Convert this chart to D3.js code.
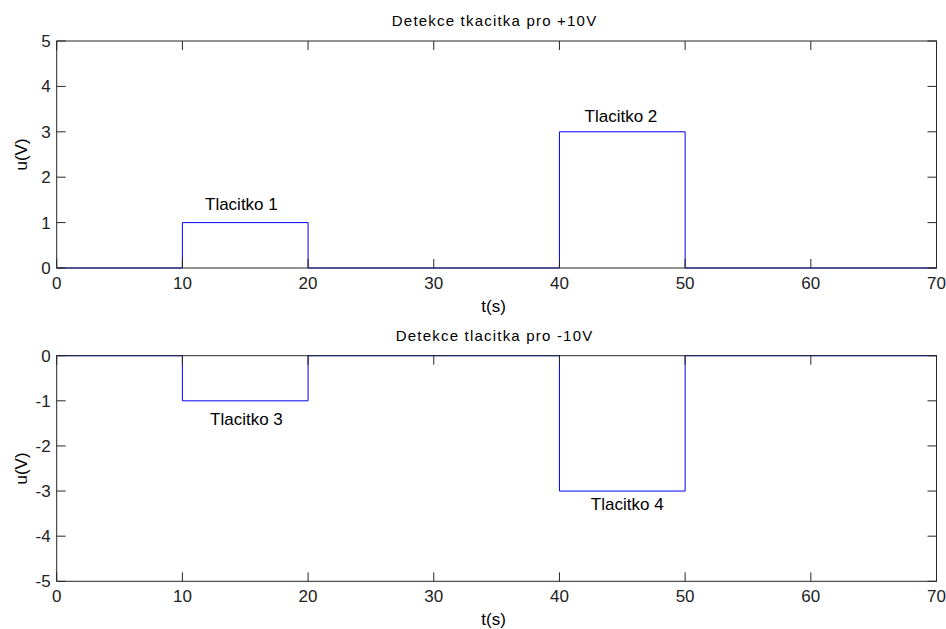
<!DOCTYPE html>
<html>
<head>
<meta charset="utf-8">
<script src="https://cdn.jsdelivr.net/npm/d3@7"></script>
<style>
  body { margin: 0; background: #fff; }
  svg { display: block; font-family: "Liberation Sans", Arial, sans-serif; }
</style>
</head>
<body>
<svg id="chart" width="946" height="629"></svg>
<script>
// signal data (step shaped)
const tTop = [0, 10, 10, 20, 20, 40, 40, 50, 50, 70];
const uTop = [0, 0, 1, 1, 0, 0, 3, 3, 0, 0];
const tBottom = [0, 10, 10, 20, 20, 40, 40, 50, 50, 70];
const uBottom = [0, 0, -1, -1, 0, 0, -3, -3, 0, 0];

const labelsTop = [
  { t: 11.8, u: 1.42, text: "Tlacitko 1" },
  { t: 42.0, u: 3.37, text: "Tlacitko 2" }
];
const labelsBottom = [
  { t: 12.2, u: -1.39, text: "Tlacitko 3" },
  { t: 42.5, u: -3.27, text: "Tlacitko 4" }
];

const xTicks = [0, 10, 20, 30, 40, 50, 60, 70];
const yTicksTop = [0, 1, 2, 3, 4, 5];
const yTicksBottom = [0, -1, -2, -3, -4, -5];

const svg = d3.select("#chart");
const left = 56.7, right = 936.5;
const tickLen = 9;
const axisColor = "#262626";

const x = d3.scaleLinear().domain([0, 70]).range([left, right]);

function drawPanel(cfg) {
  const y = d3.scaleLinear().domain(cfg.yDomain).range([cfg.bottom, cfg.top]);
  const g = svg.append("g");

  // signal line
  const pts = cfg.t.map((t, i) => [t, cfg.u[i]]);
  g.append("path")
    .datum(pts)
    .attr("fill", "none")
    .attr("stroke", "#0000ff")
    .attr("stroke-width", 1)
    .attr("d", d3.line().x(d => x(d[0])).y(d => y(d[1])));

  // text labels next to the pulses
  g.selectAll(".lbl")
    .data(cfg.labels)
    .enter()
    .append("text")
    .attr("class", "lbl")
    .attr("x", d => x(d.t))
    .attr("y", d => y(d.u) + 6.5)
    .attr("font-size", 17)
    .attr("fill", "#000")
    .text(d => d.text);

  // box
  g.append("rect")
    .attr("x", left)
    .attr("y", cfg.top)
    .attr("width", right - left)
    .attr("height", cfg.bottom - cfg.top)
    .attr("fill", "none")
    .attr("stroke", axisColor)
    .attr("stroke-width", 1);

  // x ticks (inward, bottom and top)
  const xt = g.selectAll(".xt").data(xTicks).enter();
  xt.append("line")
    .attr("x1", d => x(d)).attr("x2", d => x(d))
    .attr("y1", cfg.bottom).attr("y2", cfg.bottom - tickLen)
    .attr("stroke", axisColor);
  xt.append("line")
    .attr("x1", d => x(d)).attr("x2", d => x(d))
    .attr("y1", cfg.top).attr("y2", cfg.top + tickLen)
    .attr("stroke", axisColor);
  xt.append("text")
    .attr("x", d => x(d))
    .attr("y", cfg.bottom + 21)
    .attr("text-anchor", "middle")
    .attr("font-size", 17)
    .attr("fill", "#222")
    .text(d => d);

  // y ticks (inward, left and right)
  const yt = g.selectAll(".yt").data(cfg.yTicks).enter();
  yt.append("line")
    .attr("x1", left).attr("x2", left + tickLen)
    .attr("y1", d => y(d)).attr("y2", d => y(d))
    .attr("stroke", axisColor);
  yt.append("line")
    .attr("x1", right).attr("x2", right - tickLen)
    .attr("y1", d => y(d)).attr("y2", d => y(d))
    .attr("stroke", axisColor);
  yt.append("text")
    .attr("x", left - 6)
    .attr("y", d => y(d) + 6)
    .attr("text-anchor", "end")
    .attr("font-size", 17)
    .attr("fill", "#222")
    .text(d => d);

  // title
  g.append("text")
    .attr("x", (left + right) / 2 - 2)
    .attr("y", cfg.top - 15)
    .attr("text-anchor", "middle")
    .attr("font-size", 15)
    .attr("letter-spacing", 1.2)
    .attr("fill", "#000")
    .text(cfg.title);

  // axis labels
  g.append("text")
    .attr("x", (left + right) / 2 - 3)
    .attr("y", cfg.bottom + 44)
    .attr("text-anchor", "middle")
    .attr("font-size", 17)
    .attr("fill", "#000")
    .text("t(s)");
  g.append("text")
    .attr("transform", `translate(27,${(cfg.top + cfg.bottom) / 2}) rotate(-90)`)
    .attr("text-anchor", "middle")
    .attr("font-size", 17)
    .attr("fill", "#000")
    .text("u(V)");
}

drawPanel({
  top: 41, bottom: 268, yDomain: [0, 5], yTicks: yTicksTop,
  t: tTop, u: uTop, labels: labelsTop,
  title: "Detekce tkacitka pro +10V"
});
drawPanel({
  top: 355.7, bottom: 581.3, yDomain: [-5, 0], yTicks: yTicksBottom,
  t: tBottom, u: uBottom, labels: labelsBottom,
  title: "Detekce tlacitka pro -10V"
});
</script>
</body>
</html>
